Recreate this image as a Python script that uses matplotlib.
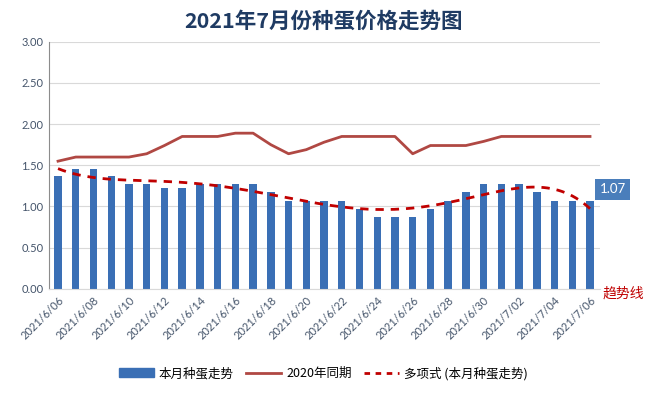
import numpy as np
import matplotlib.pyplot as plt
from matplotlib.lines import Line2D
from matplotlib.patches import Patch

plt.rcParams['font.family'] = ['Noto Sans CJK SC', 'DejaVu Sans']

# 日期与价格数据
dates = ['2021/6/%02d' % d for d in range(6, 31)] + ['2021/7/%02d' % d for d in range(1, 7)]
price_2021 = [1.37, 1.46, 1.46, 1.37, 1.27, 1.27, 1.22, 1.22, 1.27, 1.27,
              1.27, 1.27, 1.17, 1.07, 1.07, 1.07, 1.07, 0.97, 0.87, 0.87,
              0.87, 0.97, 1.07, 1.17, 1.27, 1.27, 1.27, 1.17, 1.07, 1.07, 1.07]
price_2020 = [1.55, 1.60, 1.60, 1.60, 1.60, 1.64, 1.74, 1.85, 1.85, 1.85,
              1.89, 1.89, 1.75, 1.64, 1.69, 1.78, 1.85, 1.85, 1.85, 1.85,
              1.64, 1.74, 1.74, 1.74, 1.79, 1.85, 1.85, 1.85, 1.85, 1.85, 1.85]

x = np.arange(len(dates))
# 多项式趋势线 (和Excel一样，按柱子数据拟合)
coef = np.polyfit(x + 1, price_2021, 6)
xs = np.linspace(0, len(dates) - 1, 300)
trend = np.polyval(coef, xs + 1)

fig = plt.figure(figsize=(6.47, 3.94), dpi=100)
ax = fig.add_axes([0.076, 0.267, 0.851, 0.627])

bar_color = '#3A6FB5'
line_color = '#B04843'
trend_color = '#C00000'

ax.bar(x, price_2021, width=0.42, color=bar_color, zorder=2)
ax.plot(x, price_2020, color=line_color, linewidth=2, zorder=3)
ax.plot(xs, trend, color=trend_color, linewidth=2, linestyle=(0, (3, 2.5)), zorder=4)

ax.set_xlim(-0.5, len(dates) - 0.45)
ax.set_ylim(0, 3)
ax.set_yticks(np.arange(0, 3.01, 0.5))
ax.set_yticklabels(['%.2f' % v for v in np.arange(0, 3.01, 0.5)],
                   fontsize=8, color='#44546A', family='Lato')
ax.grid(axis='y', color='#D9D9D9', linewidth=0.8, zorder=0)
ax.set_axisbelow(True)

ax.set_xticks(x[::2])
ax.set_xticklabels(dates[::2], rotation=45, ha='right', rotation_mode='anchor',
                   fontsize=8, color='#44546A', family='Lato')
ax.tick_params(axis='both', length=0, pad=4)

for s in ['top', 'right']:
    ax.spines[s].set_visible(False)
ax.spines['left'].set_color('#8C8C8C')
ax.spines['bottom'].set_color('#D9D9D9')

# 最后一天的数据标签
ax.annotate('%.2f' % price_2021[-1], xy=(x[-1], price_2021[-1]), xytext=(7, 4),
            textcoords='offset points', ha='left', va='bottom', fontsize=9.5,
            color='white', family='Lato',
            bbox=dict(boxstyle='square,pad=0.35', fc='#4A7EBB', ec='none'))

fig.text(0.5, 0.945, '2021年7月份种蛋价格走势图', ha='center', va='center',
         fontsize=15.5, fontweight='bold', color='#1F3B63')
fig.text(0.932, 0.255, '趋势线', ha='left', va='center', fontsize=10, color=trend_color)

handles = [Patch(color=bar_color),
           Line2D([], [], color=line_color, linewidth=2),
           Line2D([], [], color=trend_color, linewidth=2, linestyle=(0, (2, 2)))]
labels = ['本月种蛋走势', '2020年同期', '多项式 (本月种蛋走势)']
fig.legend(handles, labels, loc='center', bbox_to_anchor=(0.5, 0.052), ncol=3,
           frameon=False, fontsize=9, handlelength=2.8, columnspacing=1.0,
           handletextpad=0.4)

fig.savefig('out.png', dpi=100, facecolor='white')
